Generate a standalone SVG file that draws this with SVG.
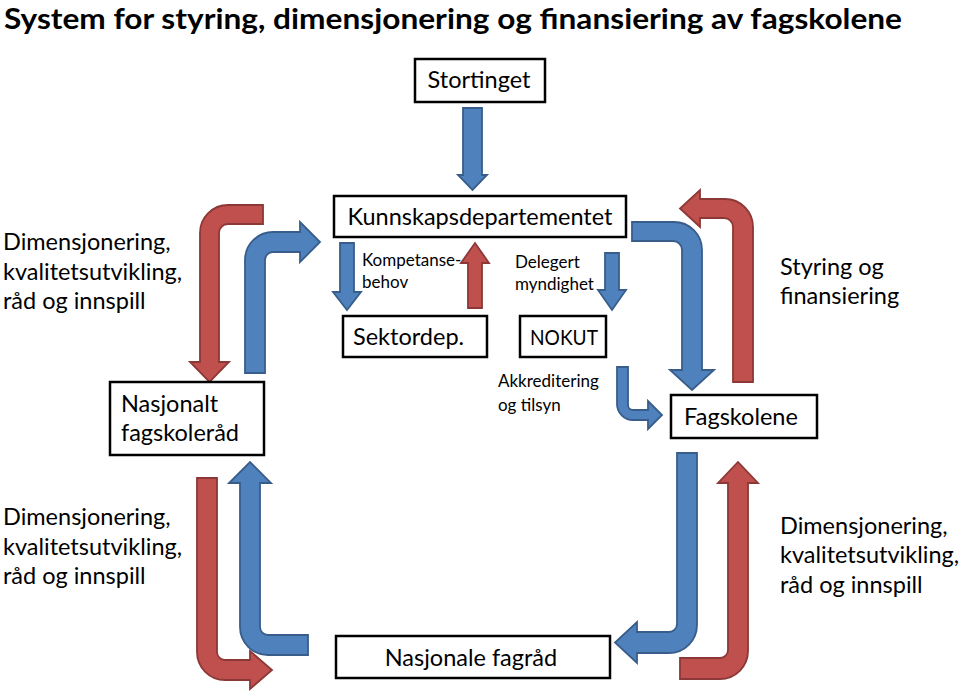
<svg xmlns="http://www.w3.org/2000/svg" width="960" height="694" viewBox="0 0 960 694">
<style>
.box{fill:#fff;stroke:#000;stroke-width:2.5}
.t{font-family:Lato,"Liberation Sans",sans-serif;font-size:23.5px;fill:#000}
.s{font-family:Lato,"Liberation Sans",sans-serif;font-size:17px;fill:#000}
.title{font-family:Lato,"Liberation Sans",sans-serif;font-weight:bold;font-size:29px;fill:#000}
.b{fill:#4F81BD;stroke:#385D8A;stroke-width:1.8;stroke-linejoin:miter}
.r{fill:#C0504D;stroke:#8C3836;stroke-width:1.8;stroke-linejoin:miter}
</style>
<rect width="960" height="694" fill="#fff"/>
<text class="title" x="4" y="29" textLength="898" lengthAdjust="spacingAndGlyphs">System for styring, dimensjonering og finansiering av fagskolene</text>

<g id="connectors">
<path class="b" d="M463,108 L482,108 L482,175 L487,175 L472.5,190 L458,175 L463,175 Z"/>
<path class="b" d="M340,243 L354,243 L354,292 L361,292 L347,310 L333,292 L340,292 Z"/>
<path class="r" d="M468,308 L482,308 L482,263 L489,263 L475,243 L461,263 L468,263 Z"/>
<path class="b" d="M605,253 L619,253 L619,290 L626,290 L612,310 L598,290 L605,290 Z"/>
<path class="b" d="M617,367 L628,367 L628,405 A5,5 0 0 0 633,410 L648,410 L648,401 L662,415 L648,429 L648,420 L633,420 A16,16 0 0 1 617,404 Z"/>
<path class="r" d="M263,205 L228,205 A28,28 0 0 0 200,233 L200,362 L190,362 L209.5,382 L229,362 L219,362 L219,233 A9,9 0 0 1 228,224 L263,224 Z"/>
<path class="b" d="M245,373 L245,260 A28,28 0 0 1 273,232 L300,232 L300,222 L320,242 L300,262 L300,252 L273,252 A8,8 0 0 0 265,260 L265,373 Z"/>
<path class="b" d="M632,222 L674,222 A28,28 0 0 1 702,250 L702,370 L714,370 L692,390 L670,370 L682,370 L682,250 A9,9 0 0 0 673,241 L632,241 Z"/>
<path class="r" d="M753,382 L753,227 A28,28 0 0 0 725,199 L700,199 L700,190 L680,208.5 L700,227 L700,218 L724,218 A9,9 0 0 1 733,227 L733,382 Z"/>
<path class="r" d="M197,478 L217,478 L217,652 A8,8 0 0 0 225,660 L250,660 L250,651 L272,670 L250,689 L250,680 L225,680 A28,28 0 0 1 197,652 Z"/>
<path class="b" d="M308,635 L268,635 A8,8 0 0 1 260,627 L260,483 L271,483 L250,462 L229,483 L240,483 L240,627 A28,28 0 0 0 268,655 L308,655 Z"/>
<path class="b" d="M677,453 L697,453 L697,625 A28,28 0 0 1 669,653 L637,653 L637,663 L615,642.5 L637,622 L637,632 L669,632 A8,8 0 0 0 677,624 Z"/>
<path class="r" d="M680,658 L720,658 A8,8 0 0 0 728,650 L728,483 L718,483 L738,462 L758,483 L748,483 L748,651 A28,28 0 0 1 720,679 L680,679 Z"/>
</g>

<g id="stortinget">
<rect class="box" x="415" y="59" width="130" height="43"/>
<text class="t" x="479" y="88" text-anchor="middle">Stortinget</text>
</g>
<g id="kunnskapsdepartementet">
<rect class="box" x="334" y="196" width="292" height="41"/>
<text class="t" x="480" y="225" text-anchor="middle">Kunnskapsdepartementet</text>
</g>
<g id="sektordep">
<rect class="box" x="343" y="316" width="144" height="41"/>
<text class="t" x="353" y="345">Sektordep.</text>
</g>
<g id="nokut">
<rect class="box" x="520" y="316" width="86" height="41"/>
<text class="t" x="530" y="345" style="font-size:22px" textLength="68" lengthAdjust="spacingAndGlyphs">NOKUT</text>
</g>
<g id="nasjonalt-fagskoleraad">
<rect class="box" x="110" y="382" width="154" height="73"/>
<text class="t" x="121" y="412">Nasjonalt</text>
<text class="t" x="121" y="441">fagskoleråd</text>
</g>
<g id="fagskolene">
<rect class="box" x="671" y="395" width="146" height="43"/>
<text class="t" x="741" y="425" text-anchor="middle">Fagskolene</text>
</g>
<g id="nasjonale-fagraad">
<rect class="box" x="336" y="636" width="274" height="42"/>
<text class="t" x="471" y="666" text-anchor="middle">Nasjonale fagråd</text>
</g>

<g id="labels">
<text class="s" x="362" y="266">Kompetanse-</text>
<text class="s" x="362" y="288">behov</text>
<text class="s" x="515" y="268">Delegert</text>
<text class="s" x="515" y="290">myndighet</text>
<text class="s" x="498" y="387">Akkreditering</text>
<text class="s" x="498" y="411">og tilsyn</text>
<text class="t" x="3" y="250">Dimensjonering,</text>
<text class="t" x="3" y="280">kvalitetsutvikling,</text>
<text class="t" x="3" y="309">råd og innspill</text>
<text class="t" x="3" y="525">Dimensjonering,</text>
<text class="t" x="3" y="555">kvalitetsutvikling,</text>
<text class="t" x="3" y="584">råd og innspill</text>
<text class="t" x="780" y="534">Dimensjonering,</text>
<text class="t" x="780" y="563">kvalitetsutvikling,</text>
<text class="t" x="780" y="593">råd og innspill</text>
<text class="t" x="780" y="275">Styring og</text>
<text class="t" x="780" y="304">finansiering</text>
</g>
</svg>
